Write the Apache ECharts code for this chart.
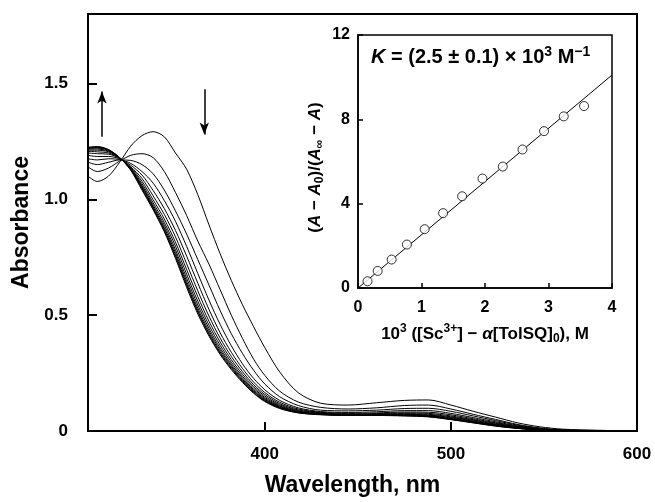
<!DOCTYPE html>
<html>
<head>
<meta charset="utf-8">
<script src="https://cdn.jsdelivr.net/npm/echarts@6/dist/echarts.min.js"></script>
<style>
  html, body { margin: 0; padding: 0; background: #fff; }
  #chart { width: 655px; height: 502px; }
</style>
</head>
<body>
<div id="chart"></div>
<script>
// wavelength grid (nm) shared by all spectra
var wavelengths = [305, 310, 316, 322, 328, 334, 340, 346, 352, 358, 364, 370, 376, 382, 388, 394, 400, 408, 418, 430, 445, 460, 475, 488, 500, 512, 524, 536, 548, 560, 580, 600];

// absorbance spectra, first (no Sc3+) to last
var spec01 = [1.10, 1.077, 1.10, 1.16, 1.23, 1.275, 1.292, 1.27, 1.20, 1.13, 1.02, 0.89, 0.765, 0.65, 0.545, 0.45, 0.36, 0.255, 0.165, 0.12, 0.112, 0.122, 0.132, 0.134, 0.112, 0.085, 0.06, 0.035, 0.018, 0.008, 0.003, 0];
var spec02 = [1.14, 1.12, 1.135, 1.165, 1.19, 1.197, 1.18, 1.12, 1.03, 0.93, 0.82, 0.72, 0.61, 0.50, 0.40, 0.31, 0.24, 0.172, 0.125, 0.102, 0.095, 0.10, 0.11, 0.112, 0.095, 0.072, 0.05, 0.028, 0.013, 0.005, 0.002, 0];
var spec03 = [1.16, 1.15, 1.16, 1.17, 1.168, 1.15, 1.11, 1.04, 0.95, 0.85, 0.74, 0.63, 0.52, 0.42, 0.335, 0.262, 0.203, 0.148, 0.11, 0.09, 0.087, 0.09, 0.097, 0.098, 0.085, 0.065, 0.045, 0.025, 0.011, 0.004, 0.001, 0];
var spec04 = [1.175, 1.17, 1.175, 1.172, 1.155, 1.12, 1.07, 0.995, 0.905, 0.797, 0.68, 0.565, 0.46, 0.368, 0.29, 0.227, 0.178, 0.132, 0.10, 0.084, 0.08, 0.083, 0.088, 0.088, 0.076, 0.058, 0.04, 0.022, 0.009, 0.003, 0.001, 0];
var spec05 = [1.19, 1.185, 1.185, 1.175, 1.147, 1.105, 1.038, 0.96, 0.866, 0.755, 0.638, 0.525, 0.424, 0.34, 0.27, 0.211, 0.166, 0.124, 0.095, 0.081, 0.076, 0.078, 0.082, 0.081, 0.07, 0.053, 0.036, 0.02, 0.008, 0.003, 0.001, 0];
var spec06 = [1.20, 1.197, 1.195, 1.177, 1.14, 1.09, 1.015, 0.935, 0.838, 0.722, 0.605, 0.496, 0.401, 0.322, 0.256, 0.20, 0.158, 0.118, 0.091, 0.079, 0.073, 0.075, 0.078, 0.076, 0.065, 0.049, 0.033, 0.018, 0.007, 0.002, 0, 0];
var spec07 = [1.207, 1.205, 1.20, 1.178, 1.137, 1.078, 0.998, 0.915, 0.815, 0.697, 0.58, 0.474, 0.384, 0.308, 0.245, 0.192, 0.151, 0.113, 0.088, 0.077, 0.071, 0.073, 0.075, 0.072, 0.061, 0.046, 0.03, 0.016, 0.006, 0.002, 0, 0];
var spec08 = [1.212, 1.212, 1.205, 1.179, 1.134, 1.068, 0.985, 0.90, 0.798, 0.677, 0.56, 0.457, 0.37, 0.297, 0.236, 0.185, 0.145, 0.109, 0.085, 0.075, 0.07, 0.071, 0.072, 0.069, 0.058, 0.043, 0.028, 0.015, 0.006, 0.002, 0, 0];
var spec09 = [1.216, 1.217, 1.208, 1.18, 1.132, 1.06, 0.975, 0.888, 0.782, 0.66, 0.544, 0.443, 0.358, 0.288, 0.229, 0.179, 0.14, 0.106, 0.083, 0.074, 0.069, 0.07, 0.07, 0.067, 0.055, 0.041, 0.026, 0.014, 0.005, 0.001, 0, 0];
var spec10 = [1.219, 1.221, 1.211, 1.18, 1.13, 1.055, 0.968, 0.878, 0.77, 0.646, 0.53, 0.432, 0.349, 0.281, 0.223, 0.174, 0.136, 0.103, 0.081, 0.073, 0.068, 0.069, 0.068, 0.065, 0.053, 0.039, 0.025, 0.013, 0.005, 0.001, 0, 0];
var spec11 = [1.221, 1.224, 1.213, 1.18, 1.128, 1.05, 0.962, 0.87, 0.76, 0.635, 0.52, 0.423, 0.341, 0.275, 0.218, 0.17, 0.133, 0.101, 0.08, 0.072, 0.068, 0.068, 0.067, 0.063, 0.051, 0.037, 0.023, 0.012, 0.004, 0.001, 0, 0];
var spec12 = [1.223, 1.226, 1.214, 1.18, 1.127, 1.045, 0.958, 0.865, 0.752, 0.628, 0.513, 0.416, 0.335, 0.27, 0.214, 0.166, 0.13, 0.099, 0.079, 0.071, 0.068, 0.068, 0.066, 0.062, 0.05, 0.036, 0.022, 0.011, 0.004, 0.001, 0, 0];
var spec13 = [1.225, 1.228, 1.215, 1.18, 1.125, 1.04, 0.955, 0.86, 0.745, 0.62, 0.505, 0.41, 0.33, 0.265, 0.21, 0.163, 0.127, 0.097, 0.078, 0.07, 0.067, 0.067, 0.065, 0.061, 0.049, 0.035, 0.021, 0.011, 0.004, 0.001, 0, 0];
var spectra = [spec01, spec02, spec03, spec04, spec05, spec06, spec07, spec08, spec09, spec10, spec11, spec12, spec13];

// inset: 10^3([Sc3+] - a[TolSQ]0) vs (A - A0)/(Ainf - A)
var concX = [0.15, 0.31, 0.53, 0.77, 1.05, 1.34, 1.64, 1.96, 2.28, 2.59, 2.93, 3.24, 3.56];
var ratioY = [0.32, 0.81, 1.35, 2.06, 2.79, 3.55, 4.35, 5.19, 5.76, 6.57, 7.44, 8.14, 8.63];
var fitX = [0, 4];
var fitY = [0, 10.1];

// tick labels
var wlTicks = [400, 500, 600];
var absTicks = [0, 0.5, 1.0, 1.5];

var FONT = "'Liberation Sans', Arial, Helvetica, sans-serif";
var chart = echarts.init(document.getElementById("chart"));

var series = [];
spectra.forEach(function (s) {
  series.push({
    type: "line",
    xAxisIndex: 0,
    yAxisIndex: 0,
    data: wavelengths.map(function (w, i) { return [w, s[i]]; }),
    smooth: 0.3,
    showSymbol: false,
    symbol: "none",
    lineStyle: { color: "#000", width: 1 },
    silent: true
  });
});

// arrows (up at ~312 nm, down at ~367 nm)
series[0].markLine = {
  silent: true,
  symbol: ["none", "arrow"],
  symbolSize: [7, 12],
  label: { show: false },
  lineStyle: { color: "#000", width: 1.5, type: "solid" },
  data: [
    [{ coord: [312.5, 1.27] }, { coord: [312.5, 1.465] }],
    [{ coord: [367.5, 1.475] }, { coord: [367.5, 1.28] }]
  ]
};

series.push({
  type: "line",
  xAxisIndex: 1,
  yAxisIndex: 1,
  data: fitX.map(function (x, i) { return [x, fitY[i]]; }),
  showSymbol: false,
  symbol: "none",
  lineStyle: { color: "#000", width: 1 },
  silent: true
});
series.push({
  type: "scatter",
  xAxisIndex: 1,
  yAxisIndex: 1,
  data: concX.map(function (x, i) { return [x, ratioY[i]]; }),
  symbol: "circle",
  symbolSize: 9,
  itemStyle: { color: "#fff", borderColor: "#000", borderWidth: 1 },
  silent: true,
  z: 5
});

var bold = { fontFamily: FONT, fontWeight: "bold", color: "#000" };

function richSet(size, small) {
  return {
    b: { fontFamily: FONT, fontWeight: "bold", fontSize: size, color: "#000", lineHeight: size + 5 },
    i: { fontFamily: FONT, fontWeight: "bold", fontStyle: "italic", fontSize: size, color: "#000", lineHeight: size + 5 },
    sup: { fontFamily: FONT, fontWeight: "bold", fontSize: small, color: "#000", lineHeight: size + 5, verticalAlign: "top" },
    sub: { fontFamily: FONT, fontWeight: "bold", fontSize: small, color: "#000", lineHeight: size + 5, verticalAlign: "bottom" }
  };
}

var option = {
  animation: false,
  backgroundColor: "#fff",
  title: {
    left: 366,
    top: 40,
    text: "{i|K}{b| = (2.5 ± 0.1) × 10}{sup|3}{b| M}{sup|−1}",
    textStyle: { rich: richSet(20, 14) }
  },
  grid: [
    { left: 88, top: 14, width: 549, height: 421, show: true, borderColor: "#000", borderWidth: 2, backgroundColor: "transparent" },
    { left: 358, top: 35, width: 254, height: 253, show: true, borderColor: "#000", borderWidth: 1.5, backgroundColor: "transparent" }
  ],
  xAxis: [
    {
      gridIndex: 0,
      type: "value",
      min: 305,
      max: 600,
      axisLine: { lineStyle: { color: "#000", width: 2 } },
      axisTick: { inside: true, length: 9, customValues: wlTicks, lineStyle: { color: "#000", width: 2 } },
      axisLabel: Object.assign({ customValues: wlTicks, fontSize: 17, margin: 15 }, bold),
      splitLine: { show: false },
      name: "Wavelength, nm",
      nameLocation: "middle",
      nameGap: 43,
      nameTextStyle: Object.assign({ fontSize: 23, padding: [0, 20, 0, 0] }, bold)
    },
    {
      gridIndex: 1,
      type: "value",
      min: 0,
      max: 4,
      interval: 1,
      axisLine: { lineStyle: { color: "#000", width: 1.5 } },
      axisTick: { inside: true, length: 5, lineStyle: { color: "#000", width: 1.5 } },
      axisLabel: Object.assign({ fontSize: 16, margin: 12 }, bold),
      splitLine: { show: false },
      name: "{b|10}{sup|3}{b| ([Sc}{sup|3+}{b|] − }{i|α}{b|[TolSQ]}{sub|0}{b|), M}",
      nameLocation: "middle",
      nameGap: 35,
      nameTextStyle: { rich: richSet(17, 12) }
    }
  ],
  yAxis: [
    {
      gridIndex: 0,
      type: "value",
      min: 0,
      max: 1.8,
      axisLine: { lineStyle: { color: "#000", width: 2 } },
      axisTick: { inside: true, length: 9, customValues: absTicks, lineStyle: { color: "#000", width: 2 } },
      axisLabel: Object.assign({
        customValues: absTicks,
        fontSize: 17,
        margin: 20,
        formatter: function (v) { return v === 0 ? "0" : v.toFixed(1); }
      }, bold),
      splitLine: { show: false },
      name: "Absorbance",
      nameLocation: "middle",
      nameRotate: 90,
      nameGap: 50,
      nameTextStyle: Object.assign({ fontSize: 23 }, bold)
    },
    {
      gridIndex: 1,
      type: "value",
      min: 0,
      max: 12,
      interval: 4,
      axisLine: { lineStyle: { color: "#000", width: 1.5 } },
      axisTick: { inside: true, length: 5, lineStyle: { color: "#000", width: 1.5 } },
      axisLabel: Object.assign({ fontSize: 16, margin: 8 }, bold),
      splitLine: { show: false },
      name: "{b|(}{i|A}{b| − }{i|A}{sub|0}{b|)/(}{i|A}{sub|∞}{b| − }{i|A}{b|)}",
      nameLocation: "middle",
      nameRotate: 90,
      nameGap: 32,
      nameTextStyle: { rich: richSet(17, 12), padding: [0, 12, 0, 0] }
    }
  ],
  series: series
};

chart.setOption(option);
</script>
</body>
</html>
